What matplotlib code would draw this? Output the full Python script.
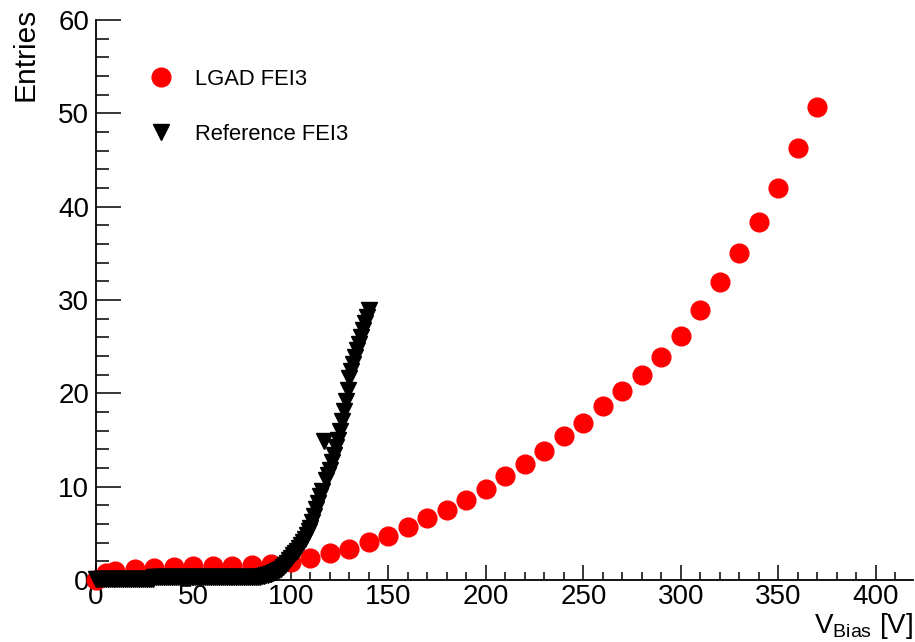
import matplotlib
matplotlib.use("Agg")
import matplotlib.pyplot as plt
from matplotlib.ticker import MultipleLocator

plt.rcParams['font.family'] = ['Liberation Sans', 'DejaVu Sans']
plt.rcParams['mathtext.fontset'] = 'custom'
plt.rcParams['mathtext.rm'] = 'Liberation Sans'

# LGAD FEI3 (red circles)
lgad_v = [0, 5, 10, 20, 30, 40, 50, 60, 70, 80, 90, 100, 110, 120, 130, 140, 150,
          160, 170, 180, 190, 200, 210, 220, 230, 240, 250, 260, 270, 280, 290,
          300, 310, 320, 330, 340, 350, 360, 370]
lgad_n = [0.0, 0.8, 1.0, 1.2, 1.3, 1.4, 1.45, 1.5, 1.55, 1.6, 1.7, 1.9, 2.4, 2.9, 3.3,
          4.1, 4.7, 5.7, 6.6, 7.5, 8.6, 9.8, 11.1, 12.4, 13.8, 15.4, 16.8, 18.6,
          20.3, 22.0, 23.9, 26.1, 28.9, 31.9, 35.0, 38.4, 42.0, 46.3, 50.7]

# Reference FEI3 (black inverted triangles), 1 V steps 0..140
ref_v = list(range(0, 141))
ref_n = ([0.15] * 30 + [0.3] * 55 +
         [0.4, 0.45, 0.5, 0.55, 0.6, 0.65, 0.75, 0.85, 0.95, 1.05,
          1.2, 1.4, 1.6, 1.85, 2.1, 2.4, 2.65, 2.9, 3.15, 3.4,
          3.7, 4.05, 4.4, 4.8, 5.2, 5.6, 6.2, 6.9, 7.6, 8.3,
          9.0, 9.5, 14.9, 10.7, 11.2, 11.8, 12.6, 13.4, 14.2, 15.0,
          16.0, 17.0, 18.1, 19.2, 20.4, 21.6, 22.4, 23.1, 23.9, 24.6,
          25.3, 26.0, 26.8, 27.5, 28.2, 28.9])

W, H = 915, 642
fig = plt.figure(figsize=(W / 100, H / 100), dpi=100)
ax = fig.add_axes([96 / W, 1 - 580 / H, (913 - 96) / W, (580 - 20) / H])

ax.plot(lgad_v, lgad_n, linestyle='none', marker='o', ms=13.5, color='#ff0000',
        mec='#ff0000', clip_on=False, zorder=3, label='LGAD FEI3')
ax.plot(ref_v, ref_n, linestyle='none', marker='v', ms=11, color='black',
        mec='black', clip_on=False, zorder=4, label='Reference FEI3')

ax.set_xlim(0, 419)
ax.set_ylim(0, 60)
for s in ['top', 'right']:
    ax.spines[s].set_visible(False)
for s in ['left', 'bottom']:
    ax.spines[s].set_linewidth(1.3)
    ax.spines[s].set_zorder(2)

ax.xaxis.set_major_locator(MultipleLocator(50))
ax.xaxis.set_minor_locator(MultipleLocator(10))
ax.yaxis.set_major_locator(MultipleLocator(10))
ax.yaxis.set_minor_locator(MultipleLocator(2))
ax.tick_params(axis='x', which='major', direction='in', length=11, width=1.1,
               labelsize=20, pad=3)
ax.tick_params(axis='x', which='minor', direction='in', length=6, width=1.1)
ax.tick_params(axis='y', which='major', direction='in', length=18, width=1.1,
               labelsize=20, pad=5)
ax.tick_params(axis='y', which='minor', direction='in', length=9, width=1.1)

fig.text(25 / W, 1 - 8 / H, 'Entries', rotation=90, ha='center', va='top', fontsize=21.5)
fig.text(913 / W, 1 - 641 / H, r'V$_{\mathrm{Bias}}$ [V]', ha='right', va='bottom', fontsize=20)

leg = ax.legend(loc='upper left', bbox_to_anchor=(150 / W, 1 - 69 / H),
                bbox_transform=fig.transFigure, frameon=False, fontsize=15.8,
                handlelength=1.0, handletextpad=1.05, labelspacing=1.55,
                borderpad=0, borderaxespad=0, numpoints=1)

fig.savefig('out.png', dpi=100)
